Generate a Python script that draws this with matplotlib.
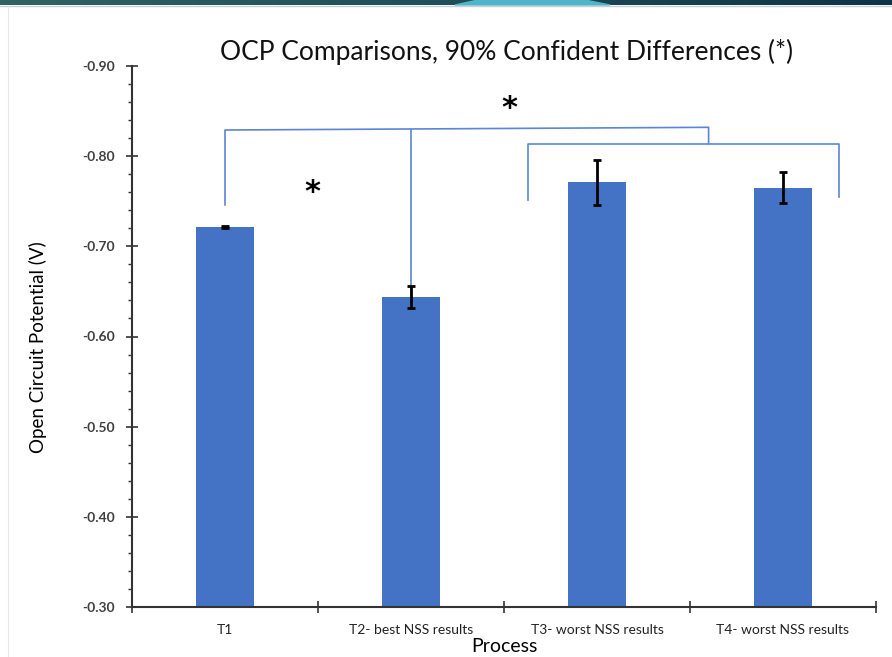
import numpy as np
import matplotlib.pyplot as plt
from matplotlib.ticker import MultipleLocator, FuncFormatter
from matplotlib.patches import Polygon
from matplotlib.colors import LinearSegmentedColormap

plt.rcParams['font.family'] = ['Lato', 'DejaVu Sans']

# data
processes = ['T1', 'T2- best NSS results', 'T3- worst NSS results', 'T4- worst NSS results']
ocp = [-0.721, -0.644, -0.771, -0.765]
err = [0.001, 0.012, 0.025, 0.017]
base = -0.30

# significance brackets (x in category units, y in volts)
bracket_a_x = [0.0, 0.0, 2.60, 2.60]
bracket_a_y = [-0.746, -0.829, -0.832, -0.814]
bracket_a_mid_x = 1.0
bracket_a_mid_y = [-0.829, -0.645]
bracket_b_x = [1.63, 1.63, 3.30, 3.30]
bracket_b_y = [-0.751, -0.814, -0.814, -0.755]
stars = [(1.53, -0.853), (0.47, -0.760)]

fig = plt.figure(figsize=(8.92, 6.57), dpi=100)

# slide banner at the top
bg = fig.add_axes([0, 0, 1, 1])
bg.set_xlim(0, 892)
bg.set_ylim(657, 0)
bg.axis('off')
grad = np.linspace(0, 1, 256).reshape(1, -1)
cmap = LinearSegmentedColormap.from_list('band', ['#2f6464', '#1f4f5a', '#0f3346'])
bg.imshow(grad, cmap=cmap, extent=[0, 892, 5, 0], aspect='auto')
bg.add_patch(Polygon([[455, 5], [478, 0], [585, 0], [610, 5]], color='#4fb6c8'))
bg.plot([0, 892], [5.5, 5.5], color='#c9cfd2', lw=1)
bg.plot([8, 8], [6, 657], color='#e6e6e6', lw=0.8)

ax = fig.add_axes([132 / 892, 1 - 607 / 657, (876 - 132) / 892, (607 - 66) / 657])
x = np.arange(len(processes))
heights = np.array(ocp) - base
ax.bar(x, heights, bottom=base, width=0.31, color='#4472c4', zorder=2)
ax.errorbar(x, ocp, yerr=err, fmt='none', ecolor='black', elinewidth=2,
            capsize=3, capthick=2, zorder=3)

ax.set_ylim(-0.30, -0.90)
ax.set_xlim(-0.5, 3.5)
ax.yaxis.set_major_locator(MultipleLocator(0.1))
ax.yaxis.set_minor_locator(MultipleLocator(0.02))
ax.yaxis.set_major_formatter(FuncFormatter(lambda v, p: f'{v:.2f}'))
ax.set_xticks(np.arange(-0.5, 3.6, 1.0), minor=False)
ax.set_xticklabels([])
ax.set_xticks(x, minor=True)
ax.set_xticklabels(processes, minor=True)
ax.tick_params(axis='x', which='minor', length=0, pad=12, labelsize=10, labelcolor='#222222')
ax.tick_params(axis='x', which='major', direction='inout', length=8, width=1.2, color='#333333')
ax.tick_params(axis='y', which='major', direction='inout', length=8, width=1.2, pad=8,
               color='#333333', labelsize=10, labelcolor='#404040')
ax.tick_params(axis='y', which='minor', direction='out', length=3, width=1, color='#333333')
for lab in ax.get_yticklabels():
    lab.set_fontweight('bold')

for s in ['top', 'right']:
    ax.spines[s].set_visible(False)
for s in ['left', 'bottom']:
    ax.spines[s].set_color('#333333')
    ax.spines[s].set_linewidth(1.5)

ax.set_ylabel('Open Circuit Potential (V)', fontsize=13.5)
ax.yaxis.set_label_coords(-0.114, 0.48)
ax.set_xlabel('Process', fontsize=14)
ax.xaxis.set_label_coords(0.5, -0.057)

# brackets
bcol = '#5b85d6'
ax.plot(bracket_a_x, bracket_a_y, color=bcol, lw=1.2, clip_on=False)
ax.plot([bracket_a_mid_x] * 2, bracket_a_mid_y, color=bcol, lw=1.2)
ax.plot(bracket_b_x, bracket_b_y, color=bcol, lw=1.2)
for sx, sy in stars:
    ax.text(sx, sy, '*', fontsize=22, fontweight='bold', ha='center', va='center',
            family='DejaVu Sans')

fig.text(507 / 892, 1 - 52 / 657, 'OCP Comparisons, 90% Confident Differences (*)',
         fontsize=19, ha='center', va='center', color='#111111')

fig.savefig('out.png', dpi=100)
